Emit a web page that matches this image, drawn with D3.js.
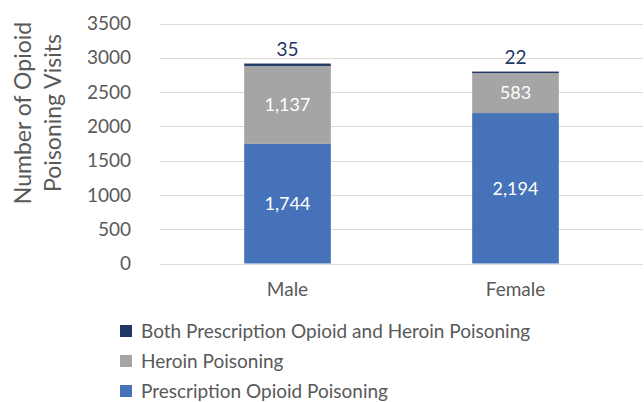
<!DOCTYPE html>
<html>
<head>
<meta charset="UTF-8">
<title>Opioid Poisoning Visits by Sex</title>
<style>
  body { margin: 0; background: #fff; }
  svg { font-family: Lato, "Open Sans", sans-serif; }
  .grid line { stroke: #d9d9d9; stroke-width: 1; }
  .tick-label { fill: #595959; font-size: 19px; }
</style>
<script src="https://cdn.jsdelivr.net/npm/d3@7"></script>
</head>
<body>
<svg id="chart" width="644" height="402"></svg>
<script>

// data
var categories = ["Male", "Female"];
var seriesNames = ["Prescription Opioid Poisoning", "Heroin Poisoning", "Both Prescription Opioid and Heroin Poisoning"];
var prescription = [1744, 2194];
var heroin = [1137, 583];
var both = [35, 22];
var yTicks = [0, 500, 1000, 1500, 2000, 2500, 3000, 3500];

var colors = ["#4672b9", "#a5a5a5", "#1f3864"];

var svg = d3.select("#chart");

var plotLeft = 160, plotRight = 643;
var y = d3.scaleLinear().domain([0, 3500]).range([263.5, 23.5]);
var x = d3.scaleBand().domain(categories).range([173.5, 629.5]).paddingInner(0.62).paddingOuter(0.31);

// gridlines
svg.append("g").attr("class", "grid")
  .selectAll("line").data(yTicks).enter().append("line")
  .attr("x1", plotLeft).attr("x2", plotRight)
  .attr("y1", function (d) { return Math.round(y(d)) + 0.5; })
  .attr("y2", function (d) { return Math.round(y(d)) + 0.5; });

// y tick labels
svg.append("g").selectAll("text").data(yTicks).enter().append("text")
  .attr("class", "tick-label")
  .attr("x", 131)
  .attr("y", function (d) { return y(d); })
  .attr("dy", "0.35em")
  .attr("text-anchor", "end")
  .text(function (d) { return d; });

// stacked data
var rows = categories.map(function (c, i) {
  return { cat: c, s0: prescription[i], s1: heroin[i], s2: both[i] };
});
var stack = d3.stack().keys(["s0", "s1", "s2"]);
var layers = stack(rows);

var layer = svg.append("g").selectAll("g").data(layers).enter().append("g")
  .attr("fill", function (d, i) { return colors[i]; });

layer.selectAll("rect").data(function (d) { return d; }).enter().append("rect")
  .attr("x", function (d) { return x(d.data.cat); })
  .attr("width", x.bandwidth())
  .attr("y", function (d) { return y(d[1]); })
  .attr("height", function (d) { return y(d[0]) - y(d[1]); });

// labels inside segments (first two series), on top for the last one
var fmt = d3.format(",");
layers.forEach(function (L, li) {
  L.forEach(function (d) {
    var val = d[1] - d[0];
    var cx = x(d.data.cat) + x.bandwidth() / 2;
    if (li < 2) {
      svg.append("text")
        .attr("x", cx)
        .attr("y", (y(d[0]) + y(d[1])) / 2)
        .attr("dy", "0.35em")
        .attr("text-anchor", "middle")
        .attr("fill", "#ffffff")
        .style("font-size", "18px")
        .text(fmt(val));
    } else {
      svg.append("text")
        .attr("x", cx)
        .attr("y", y(d[1]) - 8)
        .attr("text-anchor", "middle")
        .attr("fill", "#1f3864")
        .style("font-size", "19px")
        .text(fmt(val));
    }
  });
});

// category labels
svg.append("g").selectAll("text").data(categories).enter().append("text")
  .attr("class", "tick-label")
  .attr("x", function (d) { return x(d) + x.bandwidth() / 2; })
  .attr("y", 296)
  .attr("text-anchor", "middle")
  .text(function (d) { return d; });

// y axis title
var title = svg.append("text")
  .attr("transform", "translate(38,113) rotate(-90)")
  .attr("text-anchor", "middle")
  .attr("fill", "#595959")
  .style("font-size", "23px");
title.append("tspan").attr("x", 0).attr("dy", "-0.3em").text("Number of Opioid");
title.append("tspan").attr("x", 0).attr("dy", "1.3em").text("Poisoning Visits");

// legend (reverse order: top = last series)
var legendOrder = [2, 1, 0];
var leg = svg.append("g").selectAll("g").data(legendOrder).enter().append("g")
  .attr("transform", function (d, i) { return "translate(120," + (331 + i * 30) + ")"; });
leg.append("rect")
  .attr("x", 0).attr("y", -6).attr("width", 12).attr("height", 12)
  .attr("fill", function (d) { return colors[d]; });
leg.append("text")
  .attr("x", 21).attr("y", 0).attr("dy", "0.35em")
  .attr("fill", "#595959")
  .style("font-size", "19px")
  .text(function (d) { return seriesNames[d]; });

</script>
</body>
</html>
